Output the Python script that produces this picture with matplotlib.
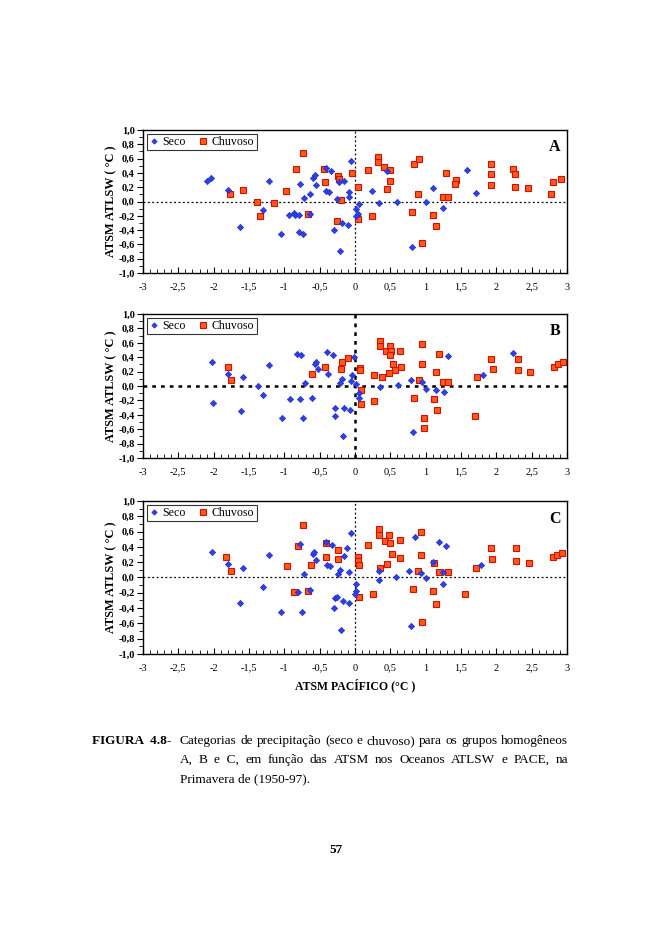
import numpy as np
import matplotlib
matplotlib.use("Agg")
import matplotlib.pyplot as plt
from matplotlib.ticker import MultipleLocator, FuncFormatter

plt.rcParams['font.family'] = ['Liberation Serif', 'DejaVu Serif']

# Painel A
a_seco_x = [-2.10, -2.04, -1.80, -1.63, -1.30, -1.22, -1.04, -0.94, -0.87, -0.85, -0.79, -0.78,
            -0.79, -0.74, -0.72, -0.63, -0.59, -0.56, -0.55, -0.64, -0.41, -0.41, -0.37, -0.34,
            -0.30, -0.22, -0.16, -0.25, -0.09, -0.08, -0.05, -0.18, -0.10, -0.21, 0.01, 0.02,
            0.06, 0.04, 0.24, 0.34, 0.46, 0.59, 0.80, 1.00, 1.10, 1.24, 1.59, 1.71]
a_seco_y = [0.28, 0.33, 0.16, -0.35, -0.12, 0.28, -0.46, -0.19, -0.16, -0.19, -0.19, 0.24,
            -0.43, -0.46, 0.05, 0.10, 0.33, 0.37, 0.23, -0.17, 0.47, 0.15, 0.13, 0.42,
            -0.40, 0.27, 0.28, 0.04, 0.07, 0.14, 0.57, -0.30, -0.33, -0.69, -0.20, -0.10,
            -0.04, -0.18, 0.15, -0.02, 0.42, 0.00, -0.64, -0.01, 0.19, -0.09, 0.44, 0.12]
a_chuv_x = [-1.77, -1.58, -1.39, -1.35, -1.14, -0.97, -0.84, -0.73, -0.66, -0.44, -0.43, -0.24,
            -0.22, -0.20, -0.25, -0.04, 0.04, 0.04, 0.19, 0.24, 0.33, 0.33, 0.41, 0.49,
            0.50, 0.45, 0.83, 0.91, 0.89, 0.81, 0.95, 1.29, 1.43, 1.41, 1.24, 1.32,
            1.10, 1.15, 1.93, 1.92, 1.93, 2.23, 2.27, 2.27, 2.45, 2.80, 2.78, 2.92]
a_chuv_y = [0.10, 0.16, 0.00, -0.20, -0.02, 0.15, 0.45, 0.68, -0.18, 0.45, 0.27, 0.35,
            0.31, 0.02, -0.27, 0.40, 0.21, -0.25, 0.44, -0.20, 0.62, 0.55, 0.48, 0.44,
            0.29, 0.17, 0.52, 0.59, 0.10, -0.15, -0.58, 0.40, 0.30, 0.24, 0.06, 0.07,
            -0.19, -0.34, 0.53, 0.39, 0.23, 0.46, 0.39, 0.21, 0.19, 0.27, 0.10, 0.32]

# Painel B
b_seco_x = [-2.02, -2.01, -1.79, -1.59, -1.61, -1.37, -1.30, -1.21, -1.03, -0.92, -0.82, -0.77,
            -0.78, -0.73, -0.71, -0.61, -0.57, -0.55, -0.52, -0.40, -0.38, -0.31, -0.28, -0.28,
            -0.21, -0.18, -0.15, -0.07, -0.17, -0.04, -0.02, -0.05, 0.02, 0.06, 0.05, 0.35,
            0.61, 0.79, 0.82, 0.95, 1.00, 1.15, 1.26, 1.32, 1.81, 2.24]
b_seco_y = [0.33, -0.24, 0.16, 0.13, -0.35, 0.00, -0.13, 0.29, -0.44, -0.18, 0.45, 0.43,
            -0.18, -0.44, 0.04, -0.17, 0.31, 0.34, 0.24, 0.47, 0.16, 0.43, -0.30, -0.41,
            0.04, 0.10, -0.31, -0.33, -0.69, 0.15, 0.40, 0.07, 0.03, -0.10, -0.17, -0.01,
            0.02, 0.08, -0.64, 0.06, -0.04, -0.05, -0.08, 0.41, 0.15, 0.46]
b_chuv_x = [-1.80, -1.75, -0.61, -0.42, -0.20, -0.19, -0.10, 0.07, 0.07, 0.09, 0.09, 0.27,
            0.27, 0.35, 0.35, 0.38, 0.44, 0.50, 0.51, 0.50, 0.48, 0.54, 0.56, 0.64,
            0.65, 0.95, 0.95, 0.91, 0.84, 0.98, 0.97, 1.14, 1.19, 1.25, 1.32, 1.12,
            1.16, 1.70, 1.73, 1.93, 1.95, 2.30, 2.30, 2.48, 2.82, 2.87, 2.94]
b_chuv_y = [0.27, 0.09, 0.17, 0.27, 0.24, 0.33, 0.39, 0.25, 0.22, -0.05, -0.25, 0.15,
            -0.21, 0.62, 0.55, 0.12, 0.48, 0.55, 0.48, 0.43, 0.18, 0.30, 0.22, 0.48,
            0.26, 0.59, 0.30, 0.09, -0.16, -0.45, -0.59, 0.19, 0.45, 0.06, 0.06, -0.18,
            -0.34, -0.41, 0.12, 0.38, 0.24, 0.38, 0.22, 0.19, 0.27, 0.30, 0.33]

# Painel C
c_seco_x = [-2.03, -1.80, -1.59, -1.63, -1.30, -1.22, -1.05, -0.81, -0.78, -0.75, -0.72, -0.63,
            -0.59, -0.58, -0.55, -0.41, -0.39, -0.36, -0.33, -0.30, -0.28, -0.25, -0.24, -0.21,
            -0.16, -0.11, -0.08, -0.05, -0.17, -0.09, -0.20, 0.02, 0.02, 0.00, 0.34, 0.34,
            0.58, 0.76, 0.85, 0.94, 1.00, 1.10, 1.19, 1.29, 1.25, 1.24, 0.79, 1.79]
c_seco_y = [0.33, 0.17, 0.12, -0.34, -0.13, 0.29, -0.45, -0.19, 0.44, -0.45, 0.05, -0.17,
            0.31, 0.33, 0.23, 0.47, 0.16, 0.15, 0.43, -0.40, -0.27, -0.26, 0.05, 0.10,
            0.28, 0.38, 0.07, 0.58, -0.31, -0.33, -0.69, -0.09, -0.18, -0.21, 0.08, -0.03,
            0.00, 0.08, 0.53, 0.06, -0.01, 0.20, 0.46, 0.41, 0.07, -0.08, -0.64, 0.16]
c_chuv_x = [-1.82, -1.76, -0.96, -0.87, -0.80, -0.73, -0.66, -0.62, -0.41, -0.41, -0.24, -0.24,
            0.04, 0.04, 0.05, 0.05, 0.18, 0.25, 0.34, 0.34, 0.35, 0.42, 0.48, 0.50,
            0.52, 0.46, 0.63, 0.64, 0.93, 0.93, 0.89, 0.82, 0.95, 1.10, 1.12, 1.14,
            1.19, 1.32, 1.56, 1.71, 1.92, 1.94, 2.28, 2.28, 2.46, 2.80, 2.86, 2.93]
c_chuv_y = [0.27, 0.09, 0.15, -0.19, 0.41, 0.68, -0.18, 0.16, 0.45, 0.27, 0.36, 0.24,
            0.27, 0.22, 0.16, -0.25, 0.43, -0.22, 0.63, 0.55, 0.12, 0.48, 0.55, 0.45,
            0.31, 0.17, 0.49, 0.26, 0.60, 0.29, 0.09, -0.15, -0.58, -0.18, 0.19, -0.35,
            0.07, 0.07, -0.22, 0.12, 0.38, 0.24, 0.38, 0.21, 0.19, 0.27, 0.29, 0.32]

caption_lines = ['Categorias de precipitação (seco e chuvoso) para os grupos homogêneos',
                 'A, B e\u00a0\u00a0C, em função das ATSM nos Oceanos ATLSW e PACE, na',
                 'Primavera de (1950-97).']

blue = '#2F3FE8'
red_face = '#FF5A1A'
red_edge = '#D01000'

fig = plt.figure(figsize=(6.61, 9.36), dpi=100)

def draw_panel(rect, sx, sy, cx, cy, letter, lw_ref, xlabel=False):
    ax = fig.add_axes(rect)
    ax.axhline(0, color='black', linestyle=(0, (1.5, 2)), linewidth=lw_ref, zorder=1)
    ax.axvline(0, color='black', linestyle=(0, (1.5, 2)), linewidth=lw_ref, zorder=1)
    ax.plot(sx, sy, linestyle='none', marker='D', markersize=3.2, color=blue,
            markeredgecolor='#2233CC', markeredgewidth=0.5, label='Seco', zorder=3)
    ax.plot(cx, cy, linestyle='none', marker='s', markersize=4.4, color=red_face,
            markeredgecolor=red_edge, markeredgewidth=0.8, label='Chuvoso', zorder=2)
    ax.set_xlim(-3, 3)
    ax.set_ylim(-1, 1)
    ax.xaxis.set_major_locator(MultipleLocator(0.5))
    ax.xaxis.set_minor_locator(MultipleLocator(0.1))
    ax.yaxis.set_major_locator(MultipleLocator(0.2))
    ax.yaxis.set_minor_locator(MultipleLocator(0.1))
    ax.xaxis.set_major_formatter(FuncFormatter(lambda v, p: f"{v:g}".replace('.', ',')))
    ax.yaxis.set_major_formatter(FuncFormatter(
        lambda v, p: f"{(0.0 if abs(v) < 1e-9 else v):.1f}".replace('.', ',')))
    ax.tick_params(axis='x', which='both', direction='in', labelsize=7.5, pad=7)
    ax.tick_params(axis='x', which='major', length=4, width=0.8)
    ax.tick_params(axis='x', which='minor', length=3, width=0.6)
    ax.tick_params(axis='y', which='major', length=4, width=0.8, labelsize=7.5, pad=2)
    ax.tick_params(axis='y', which='minor', length=3, width=0.6)
    for lab in ax.get_yticklabels():
        lab.set_fontweight('bold')
    for sp in ax.spines.values():
        sp.set_linewidth(1.0)
    ax.set_ylabel('ATSM ATLSW ( °C )', fontsize=8.8, fontweight='bold', labelpad=1)
    if xlabel:
        ax.set_xlabel('ATSM PACÍFICO (°C )', fontsize=8.5, fontweight='bold', labelpad=4)
    ax.text(0.985, 0.88, letter, transform=ax.transAxes, fontsize=11.5,
            fontweight='bold', ha='right', va='center')
    leg = ax.legend(loc='upper left', ncol=2, fontsize=8.6, frameon=True, fancybox=False,
                    edgecolor='black', borderpad=0.2, handletextpad=0.25,
                    columnspacing=1.0, handlelength=0.9, borderaxespad=0.3, markerscale=0.85)
    leg.get_frame().set_linewidth(0.8)
    return ax

draw_panel([0.2163, 0.7083, 0.6415, 0.1528], a_seco_x, a_seco_y, a_chuv_x, a_chuv_y, 'A', 0.9)
draw_panel([0.2163, 0.5107, 0.6415, 0.1538], b_seco_x, b_seco_y, b_chuv_x, b_chuv_y, 'B', 1.8)
draw_panel([0.2163, 0.3013, 0.6415, 0.1635], c_seco_x, c_seco_y, c_chuv_x, c_chuv_y, 'C', 0.9,
           xlabel=True)

# legenda da figura (texto justificado nas duas primeiras linhas)
renderer = fig.canvas.get_renderer()
x0, x1 = 180, 568
cap_fs = 9.5

def justified(line, ypix):
    words = line.split(' ')
    texts = [fig.text(0, 1 - ypix / 936, w, fontsize=cap_fs, va='center') for w in words]
    widths = [t.get_window_extent(renderer).width for t in texts]
    gap = (x1 - x0 - sum(widths)) / (len(words) - 1)
    pos = x0
    for t, w in zip(texts, widths):
        t.set_x(pos / 661)
        pos += w + gap

fig.text(92 / 661, 1 - 741 / 936, 'FIGURA  4.8-', fontsize=9.5, fontweight='bold', va='center')
justified(caption_lines[0], 741)
justified(caption_lines[1], 760)
fig.text(x0 / 661, 1 - 779 / 936, caption_lines[2], fontsize=cap_fs, va='center')
fig.text(336 / 661, 1 - 850 / 936, '57', fontsize=9.5, fontweight='bold', ha='center', va='center')

fig.savefig('out.png', dpi=100, facecolor='white')
